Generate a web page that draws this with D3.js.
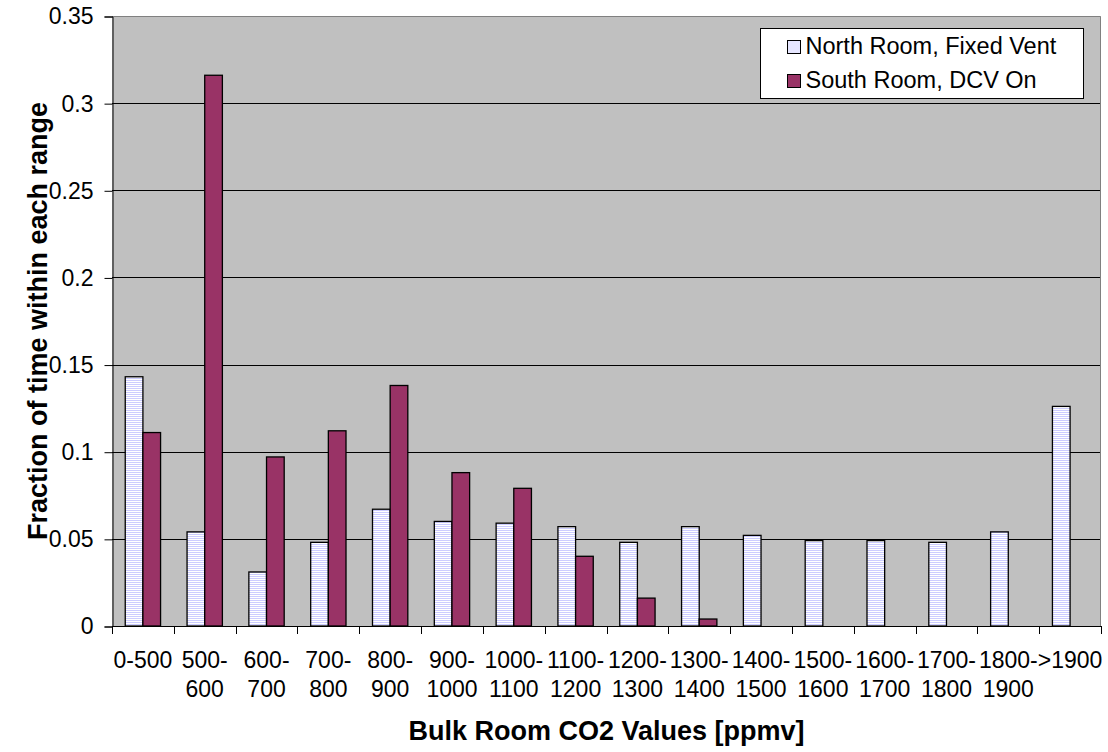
<!DOCTYPE html>
<html>
<head>
<meta charset="utf-8">
<script src="https://cdn.jsdelivr.net/npm/d3@7"></script>
<style>
  html, body { margin: 0; padding: 0; background: #ffffff; }
  svg { display: block; font-family: Arial, "Liberation Sans", sans-serif; }
</style>
</head>
<body>
<svg id="chart" width="1108" height="752"></svg>
<script>
// CO2 concentration bins (ppmv); "\n" marks the line break in the axis label
const categories = ["0-500", "500-\n600", "600-\n700", "700-\n800", "800-\n900", "900-\n1000",
  "1000-\n1100", "1100-\n1200", "1200-\n1300", "1300-\n1400", "1400-\n1500",
  "1500-\n1600", "1600-\n1700", "1700-\n1800", "1800-\n1900", ">1900"];

const seriesNames = ["North Room, Fixed Vent", "South Room, DCV On"];

// Fraction of occupied time spent in each bin
const northValues = [0.143, 0.054, 0.031, 0.048, 0.067, 0.060, 0.059, 0.057,
  0.048, 0.057, 0.052, 0.049, 0.049, 0.048, 0.054, 0.126];
const southValues = [0.111, 0.316, 0.097, 0.112, 0.138, 0.088, 0.079, 0.040,
  0.016, 0.004, 0, 0, 0, 0, 0, 0];

const yTicks = [0, 0.05, 0.1, 0.15, 0.2, 0.25, 0.3, 0.35];
const yTickLabels = ["0", "0.05", "0.1", "0.15", "0.2", "0.25", "0.3", "0.35"];

const xTitle = "Bulk Room CO2 Values [ppmv]";
const yTitle = "Fraction of time within each range";

const svg = d3.select("#chart");
const plot = { left: 112, right: 1101, top: 16, bottom: 626 };
const labelSize = 23;
const titleSize = 27;

const defs = svg.append("defs");
const stripes = defs.append("pattern")
  .attr("id", "hstripes")
  .attr("patternUnits", "userSpaceOnUse")
  .attr("width", 4).attr("height", 2);
stripes.append("rect").attr("width", 4).attr("height", 2).attr("fill", "#ffffff");
stripes.append("rect").attr("width", 4).attr("height", 1).attr("fill", "#ccccff");

const seriesFill = ["url(#hstripes)", "#993366"];

const x = d3.scaleBand()
  .domain(d3.range(categories.length))
  .range([plot.left, plot.right])
  .paddingInner(0).paddingOuter(0);

// two bars per group, 150% gap between groups
const x1 = d3.scaleBand()
  .domain([0, 1])
  .range([0, x.bandwidth()])
  .paddingInner(0)
  .paddingOuter(0.75);

const y = d3.scaleLinear().domain([0, 0.35]).range([plot.bottom, plot.top]);

// plot background
svg.append("rect")
  .attr("x", plot.left).attr("y", plot.top)
  .attr("width", plot.right - plot.left).attr("height", plot.bottom - plot.top)
  .attr("fill", "#c0c0c0");

// horizontal gridlines
svg.append("g").selectAll("line")
  .data(yTicks.filter(t => t > 0 && t < 0.35))
  .join("line")
  .attr("x1", plot.left).attr("x2", plot.right)
  .attr("y1", d => Math.round(y(d)) + 0.5).attr("y2", d => Math.round(y(d)) + 0.5)
  .attr("stroke", "#000000").attr("stroke-width", 1);

// plot frame (top and right)
svg.append("path")
  .attr("d", `M${plot.left},${plot.top + 0.5}H${plot.right - 0.5}V${plot.bottom}`)
  .attr("fill", "none").attr("stroke", "#808080").attr("stroke-width", 1);

// bars
const rows = categories.map((c, i) => ({ i, values: [northValues[i], southValues[i]] }));
const groups = svg.append("g").selectAll("g")
  .data(rows)
  .join("g")
  .attr("transform", d => `translate(${x(d.i)},0)`);

groups.selectAll("rect")
  .data(d => d.values.map((v, s) => ({ s, v })).filter(e => e.v > 0))
  .join("rect")
  .attr("x", d => x1(d.s))
  .attr("y", d => y(d.v))
  .attr("width", x1.bandwidth())
  .attr("height", d => y(0) - y(d.v))
  .attr("fill", d => seriesFill[d.s])
  .attr("stroke", "#000000")
  .attr("stroke-width", 1.3);

// y axis
const yAxis = d3.axisLeft(y)
  .tickValues(yTicks)
  .tickFormat((d, i) => yTickLabels[i])
  .tickSize(8)
  .tickPadding(11);
const yg = svg.append("g")
  .attr("transform", `translate(${plot.left + 0.5},0.5)`)
  .call(yAxis);
yg.select(".domain").attr("stroke", "#000000");
yg.selectAll(".tick line").attr("stroke", "#000000");
yg.selectAll(".tick text")
  .attr("font-size", labelSize).attr("fill", "#000000")
  .attr("font-family", "Arial, 'Liberation Sans', sans-serif");

// x axis: ticks on the category boundaries
const boundaries = d3.range(categories.length + 1).map(i => plot.left + i * x.step());
const xg = svg.append("g");
xg.append("line")
  .attr("x1", plot.left).attr("x2", plot.right)
  .attr("y1", plot.bottom + 0.5).attr("y2", plot.bottom + 0.5)
  .attr("stroke", "#000000");
xg.selectAll("line.tk")
  .data(boundaries)
  .join("line")
  .attr("class", "tk")
  .attr("x1", d => Math.round(d) + 0.5).attr("x2", d => Math.round(d) + 0.5)
  .attr("y1", plot.bottom).attr("y2", plot.bottom + 8)
  .attr("stroke", "#000000");

const xLabels = xg.selectAll("text.cat")
  .data(categories)
  .join("text")
  .attr("class", "cat")
  .attr("text-anchor", "middle")
  .attr("font-size", labelSize)
  .attr("fill", "#000000")
  .attr("transform", (d, i) => `translate(${x(i) + x.bandwidth() / 2},0)`);
xLabels.selectAll("tspan")
  .data(d => d.split("\n"))
  .join("tspan")
  .attr("x", 0)
  .attr("y", (d, j) => 668 + j * 29)
  .text(d => d);

// axis titles
svg.append("text")
  .attr("x", (plot.left + plot.right) / 2)
  .attr("y", 740)
  .attr("text-anchor", "middle")
  .attr("font-size", titleSize)
  .attr("font-weight", "bold")
  .text(xTitle);

svg.append("text")
  .attr("transform", `translate(47,${(plot.top + plot.bottom) / 2}) rotate(-90)`)
  .attr("text-anchor", "middle")
  .attr("font-size", titleSize)
  .attr("font-weight", "bold")
  .text(yTitle);

// legend
const legend = svg.append("g").attr("transform", "translate(760.5,28.5)");
legend.append("rect")
  .attr("width", 323).attr("height", 70)
  .attr("fill", "#ffffff").attr("stroke", "#000000").attr("stroke-width", 1);
const items = legend.selectAll("g.item")
  .data(seriesNames)
  .join("g")
  .attr("class", "item")
  .attr("transform", (d, i) => `translate(27,${12 + i * 34})`);
items.append("rect")
  .attr("width", 13).attr("height", 13)
  .attr("fill", (d, i) => seriesFill[i])
  .attr("stroke", "#000000").attr("stroke-width", 1);
items.append("text")
  .attr("x", 18).attr("y", 13)
  .attr("font-size", 23.5)
  .attr("fill", "#000000")
  .text(d => d);
</script>
</body>
</html>
